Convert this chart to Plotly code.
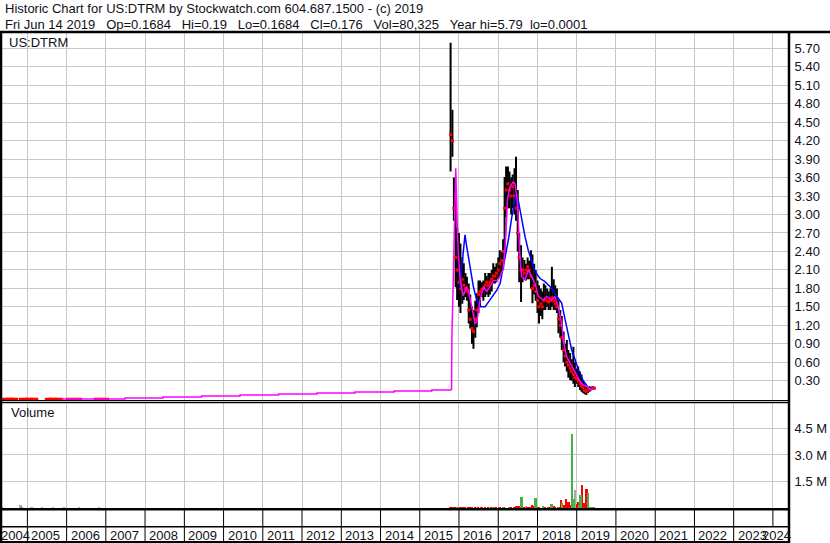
import plotly.graph_objects as go

W, H = 830, 543
FONT = "Arial, Liberation Sans, sans-serif"
TXT = "#101018"
GRID = "#c8c8c8"

# ---------------- data ----------------
grid_years = list(range(2005, 2025))
label_years = list(range(2004, 2025))

price_ticks = [0.30, 0.60, 0.90, 1.20, 1.50, 1.80, 2.10, 2.40, 2.70, 3.00,
               3.30, 3.60, 3.90, 4.20, 4.50, 4.80, 5.10, 5.40, 5.70]
vol_ticks = [1500000, 3000000, 4500000]
vol_tick_text = ["1.5 M", "3.0 M", "4.5 M"]

bar_dates = [
    "2015-10-15", "2015-11-01", "2015-11-15", "2015-12-01", "2015-12-15",
    "2016-01-01", "2016-01-15", "2016-02-01", "2016-02-15", "2016-03-01", "2016-03-15",
    "2016-04-01", "2016-04-15", "2016-05-01", "2016-05-15", "2016-06-01", "2016-06-15",
    "2016-07-01", "2016-07-15", "2016-08-01", "2016-08-15", "2016-09-01", "2016-09-15",
    "2016-10-01", "2016-10-15", "2016-11-01", "2016-11-15", "2016-12-01", "2016-12-15",
    "2017-01-01", "2017-01-15", "2017-02-01", "2017-02-15", "2017-03-01", "2017-03-15",
    "2017-04-01", "2017-04-15", "2017-05-01", "2017-05-15", "2017-06-01", "2017-06-15",
    "2017-07-01", "2017-07-15", "2017-08-01", "2017-08-15", "2017-09-01", "2017-09-15",
    "2017-10-01", "2017-10-15", "2017-11-01", "2017-11-15", "2017-12-01", "2017-12-15",
    "2018-01-01", "2018-01-15", "2018-02-01", "2018-02-15", "2018-03-01", "2018-03-15",
    "2018-04-01", "2018-04-15", "2018-05-01", "2018-05-15", "2018-06-01", "2018-06-15",
    "2018-07-01", "2018-07-15", "2018-08-01", "2018-08-15", "2018-09-01", "2018-09-15",
    "2018-10-01", "2018-10-15", "2018-11-01", "2018-11-15", "2018-12-01", "2018-12-15",
    "2019-01-01", "2019-01-15", "2019-02-01", "2019-02-15", "2019-03-01", "2019-03-15",
    "2019-04-01", "2019-04-15", "2019-05-01", "2019-05-15", "2019-06-01", "2019-06-14",
]
bar_high = [
    5.79, 4.70, 3.60, 3.23, 2.79,
    2.70, 2.53, 2.30, 2.21, 2.05, 1.99, 1.88, 1.70, 1.50, 1.45, 1.60, 1.72,
    1.93, 1.93, 1.90, 1.93, 2.05, 2.00, 2.05, 2.05, 2.10, 2.21, 2.15, 2.21,
    2.30, 2.42, 2.40, 2.60, 3.61, 3.78, 3.78, 3.70, 3.60, 3.65, 3.75, 3.94,
    3.40, 2.70, 2.50, 2.30, 2.26, 2.20, 2.30, 2.25, 2.42, 2.35, 2.20, 2.10,
    1.93, 1.85, 1.80, 1.75, 1.88, 1.85, 1.80, 1.75, 1.80, 2.15, 1.95, 1.85,
    1.80, 1.61, 1.45, 1.35, 1.10, 0.90, 0.96, 0.80, 0.75, 0.65, 0.85, 0.60,
    0.50, 0.53, 0.45, 0.40, 0.30, 0.26, 0.22, 0.20, 0.21, 0.20, 0.21, 0.19,
]
bar_low = [
    3.70, 3.94, 2.90, 1.82, 1.61,
    1.50, 1.40, 1.55, 1.61, 1.66, 1.60, 1.23, 1.15, 0.90, 0.82, 1.00, 1.17,
    1.40, 1.50, 1.66, 1.60, 1.66, 1.70, 1.66, 1.70, 1.75, 1.88, 1.88, 1.90,
    1.95, 2.00, 2.05, 2.10, 2.30, 2.96, 3.10, 3.10, 3.00, 3.10, 3.00, 2.90,
    2.40, 1.90, 1.58, 1.90, 1.95, 1.93, 1.95, 1.95, 1.80, 1.56, 1.70, 1.60,
    1.40, 1.23, 1.35, 1.30, 1.45, 1.45, 1.50, 1.45, 1.45, 1.50, 1.45, 1.45,
    1.40, 1.07, 1.00, 0.80, 0.60, 0.53, 0.45, 0.35, 0.31, 0.30, 0.25, 0.20,
    0.25, 0.20, 0.15, 0.12, 0.10, 0.08, 0.07, 0.10, 0.12, 0.14, 0.15, 0.1684,
]
bar_close = [
    4.30, 4.20, 3.10, 2.30, 2.10,
    1.90, 1.80, 1.95, 1.85, 1.80, 1.75, 1.45, 1.30, 1.15, 1.10, 1.30, 1.45,
    1.70, 1.75, 1.78, 1.80, 1.85, 1.90, 1.85, 1.90, 1.95, 2.00, 2.00, 2.05,
    2.10, 2.20, 2.25, 2.40, 3.10, 3.40, 3.50, 3.40, 3.30, 3.45, 3.30, 3.10,
    2.70, 2.30, 2.10, 2.10, 2.05, 2.10, 2.15, 2.10, 2.00, 1.80, 1.85, 1.75,
    1.60, 1.50, 1.55, 1.50, 1.60, 1.62, 1.60, 1.58, 1.60, 1.65, 1.60, 1.55,
    1.50, 1.30, 1.20, 1.00, 0.80, 0.70, 0.60, 0.55, 0.50, 0.45, 0.40, 0.35,
    0.33, 0.30, 0.25, 0.22, 0.18, 0.14, 0.13, 0.15, 0.17, 0.18, 0.18, 0.176,
]

early_dates = ["2004-06-08", "2004-07-24", "2004-08-30", "2004-11-22", "2005-01-16",
               "2005-03-04", "2005-07-21", "2005-08-27", "2005-10-22", "2006-02-01",
               "2006-04-16", "2006-10-20", "2006-12-24"]
early_close = [0.002, 0.002, 0.002, 0.002, 0.002, 0.002, 0.002,
               0.002, 0.002, 0.002, 0.002, 0.002, 0.002]

ma_short_pre_dates = ["2005-11-16", "2007-06-28", "2008-06-17", "2009-06-10", "2010-06-03",
                      "2011-05-29", "2012-05-19", "2013-05-08", "2014-05-08", "2015-04-23",
                      "2015-10-24"]
ma_short_pre = [0.003, 0.018, 0.034, 0.052, 0.068, 0.084, 0.100, 0.117, 0.133, 0.150, 0.150]

ma_short_dates = [
    "2015-10-24", "2015-10-27", "2015-11-06", "2015-11-25", "2015-12-02", "2015-12-15",
    "2015-12-25", "2016-01-11", "2016-02-10", "2016-03-13", "2016-03-28", "2016-04-29",
    "2016-05-30", "2016-06-14", "2016-07-15", "2016-08-15", "2016-09-15", "2016-10-16",
    "2016-11-16", "2016-12-18", "2017-01-18", "2017-02-17", "2017-03-14", "2017-03-26",
    "2017-04-20", "2017-05-21", "2017-06-06", "2017-06-27", "2017-07-22", "2017-08-07",
    "2017-09-07", "2017-10-07", "2017-11-08", "2017-12-09", "2018-01-09", "2018-02-24",
    "2018-03-27", "2018-05-12", "2018-06-12", "2018-07-13", "2018-08-14", "2018-08-29",
    "2018-09-29", "2018-11-15", "2019-01-01", "2019-02-01", "2019-03-03", "2019-04-03",
    "2019-05-04", "2019-06-14",
]
ma_short = [
    0.15, 1.00, 1.70, 3.00, 3.75, 2.90,
    2.40, 1.95, 1.68, 1.83, 1.77, 1.50,
    1.23, 1.25, 1.61, 1.83, 1.75, 1.83,
    1.93, 1.93, 1.99, 2.12, 2.70, 3.23,
    3.45, 3.53, 3.50, 3.23, 2.30, 1.99,
    1.94, 2.10, 1.99, 1.88, 1.67, 1.61,
    1.67, 1.61, 1.67, 1.50, 1.23, 0.96,
    0.69, 0.53, 0.37, 0.29, 0.23, 0.21,
    0.16, 0.17,
]

ma_long_dates = [
    "2016-01-08", "2016-02-26", "2016-03-13", "2016-04-13", "2016-05-14", "2016-06-14",
    "2016-07-15", "2016-08-31", "2016-10-16", "2016-12-18", "2017-01-18", "2017-02-17",
    "2017-04-05", "2017-05-07", "2017-06-06", "2017-06-17", "2017-07-06", "2017-08-07",
    "2017-09-07", "2017-10-07", "2017-11-08", "2017-12-09", "2018-01-25", "2018-03-12",
    "2018-04-27", "2018-06-12", "2018-08-14", "2018-09-14", "2018-10-15", "2018-11-15",
    "2018-12-16", "2019-01-16", "2019-03-03", "2019-04-18", "2019-05-20", "2019-06-14",
]
ma_long = [
    1.80, 2.67, 2.48, 2.15, 1.83, 1.61,
    1.50, 1.50, 1.61, 1.77, 1.88, 2.15,
    2.59, 2.96, 3.28, 3.35, 3.23, 2.91,
    2.64, 2.42, 2.26, 2.07, 1.96, 1.91,
    1.83, 1.72, 1.56, 1.30, 1.07, 0.80,
    0.65, 0.48, 0.30, 0.19, 0.18, 0.17,
]

vol_green_dates = ["2004-11-15", "2015-12-20", "2016-11-20", "2017-02-15", "2017-04-10",
                   "2017-08-08", "2017-12-16", "2018-02-20", "2018-05-14", "2018-07-15",
                   "2018-08-21", "2018-11-24", "2018-12-07", "2019-01-28", "2019-02-08",
                   "2019-04-17", "2019-04-28", "2019-05-12", "2019-05-26", "2019-06-10"]
vol_green = [60000, 70000, 60000, 70000, 60000,
             630000, 590000, 140000, 250000, 60000,
             300000, 4190000, 550000, 200000, 760000,
             850000, 100000, 100000, 80000, 90000]

vol_gray_dates = ["2004-05-10", "2004-10-31", "2005-02-10", "2005-05-20", "2005-09-01",
                  "2005-12-10", "2006-05-01", "2006-11-01", "2016-06-10", "2017-09-18",
                  "2018-12-19"]
vol_gray = [80000, 230000, 50000, 60000, 50000,
            60000, 50000, 70000, 60000, 140000,
            1040000]

vol_red_dates = [
    "2015-10-15", "2015-11-01", "2015-11-15", "2015-12-01", "2016-01-01", "2016-01-15",
    "2016-02-01", "2016-02-15", "2016-03-01", "2016-04-01", "2016-04-15", "2016-05-01",
    "2016-06-01", "2016-07-01", "2016-08-01", "2016-09-01", "2016-10-01", "2016-11-01",
    "2016-12-01", "2016-12-15", "2017-01-15", "2017-03-01", "2017-05-01", "2017-06-01",
    "2017-06-15", "2017-07-01", "2017-07-15", "2017-09-01", "2017-10-01", "2017-10-15",
    "2017-11-01", "2017-11-15", "2017-12-01", "2018-01-01", "2018-01-15", "2018-03-15",
    "2018-04-15", "2018-05-01", "2018-06-01", "2018-06-15", "2018-07-25", "2018-08-08",
    "2018-09-05", "2018-09-22", "2018-10-18", "2018-11-06", "2018-11-18", "2019-01-07",
    "2019-01-20", "2019-02-25", "2019-03-10", "2019-04-04",
]
vol_red = [
    60000, 80000, 50000, 60000, 40000, 50000,
    60000, 40000, 50000, 50000, 60000, 40000,
    50000, 50000, 40000, 50000, 40000, 50000,
    60000, 40000, 50000, 60000, 40000, 60000,
    140000, 130000, 120000, 50000, 70000, 100000,
    90000, 210000, 120000, 60000, 80000, 60000,
    50000, 60000, 120000, 80000, 90000, 480000,
    200000, 530000, 380000, 200000, 430000, 250000,
    370000, 1320000, 300000, 1100000,
]

x_range = ["2004-04-21", "2024-05-30"]

# ---------------- helpers (pixel frame -> paper) ----------------
def xp(px):
    return px / W


def yp(py):
    return 1 - py / H


PLOT_R = 789.0
PRICE_TOP, PRICE_BOT = 33.0, 400.7
VOL_TOP, VOL_BOT = 402.7, 509.3
ROW_MID = 526.7

fig = go.Figure()

# price bars (high-low segments)
seg_x, seg_y = [], []
for d, h, l in zip(bar_dates, bar_high, bar_low):
    seg_x += [d, d, None]
    seg_y += [l, h, None]
fig.add_trace(go.Scatter(x=seg_x, y=seg_y, mode="lines", line=dict(color="black", width=2),
                         xaxis="x", yaxis="y", hoverinfo="skip"))

# close ticks
fig.add_trace(go.Scatter(x=bar_dates, y=bar_close, mode="markers",
                         marker=dict(symbol="square", size=3, color="#ff0000", line=dict(width=0)),
                         xaxis="x", yaxis="y"))
fig.add_trace(go.Scatter(x=early_dates, y=early_close, mode="markers",
                         marker=dict(symbol="line-ew-open", size=6, color="#ff0000",
                                     line=dict(color="#ff0000", width=2.5)),
                         xaxis="x", yaxis="y"))

# moving averages
fig.add_trace(go.Scatter(x=ma_long_dates, y=ma_long, mode="lines",
                         line=dict(color="#0000ff", width=1.5), xaxis="x", yaxis="y"))
fig.add_trace(go.Scatter(x=ma_short_pre_dates, y=ma_short_pre, mode="lines",
                         line=dict(color="#ff00ff", width=1.5, shape="hv"), xaxis="x", yaxis="y"))
fig.add_trace(go.Scatter(x=ma_short_dates, y=ma_short, mode="lines",
                         line=dict(color="#ff00ff", width=1.5), xaxis="x", yaxis="y"))

# volume
BAR_W = 16 * 86400000
fig.add_trace(go.Bar(x=vol_gray_dates, y=vol_gray, marker=dict(color="#a8a8a8", line=dict(width=0)),
                     width=BAR_W, xaxis="x2", yaxis="y2"))
fig.add_trace(go.Bar(x=vol_red_dates, y=vol_red, marker=dict(color="#ff0000", line=dict(width=0)),
                     width=BAR_W, xaxis="x2", yaxis="y2"))
fig.add_trace(go.Bar(x=vol_green_dates, y=vol_green, marker=dict(color="#44b244", line=dict(width=0)),
                     width=BAR_W, xaxis="x2", yaxis="y2"))

year_ticks = [f"{y}-01-01" for y in grid_years]

xaxis_common = dict(domain=[0, xp(PLOT_R)], range=x_range, type="date", tickvals=year_ticks,
                    showticklabels=False, showgrid=True, gridcolor=GRID, gridwidth=1,
                    zeroline=False, showline=False, ticks="", fixedrange=True)

# price axis: 61.56 px per unit, zero at y=399.2
p_per = 61.56
price_range = [(399.2 - PRICE_BOT) / p_per, (399.2 - PRICE_TOP) / p_per]
# volume axis: 17.78 px per million, zero at y=508.3
v_per = 17.78 / 1e6
vol_range = [(508.3 - VOL_BOT) / v_per, (508.3 - VOL_TOP) / v_per]

fig.update_layout(
    width=W, height=H, autosize=False,
    margin=dict(l=0, r=0, t=0, b=0, pad=0),
    paper_bgcolor="white", plot_bgcolor="white",
    showlegend=False, bargap=0, barmode="overlay",
    font=dict(family=FONT, size=13, color=TXT),
    xaxis=dict(anchor="y", **xaxis_common),
    xaxis2=dict(anchor="y2", matches="x", **xaxis_common),
    yaxis=dict(domain=[yp(PRICE_BOT), yp(PRICE_TOP)], range=price_range, side="right",
               tickvals=price_ticks, ticktext=[f"{v:.2f}" for v in price_ticks],
               showgrid=True, gridcolor=GRID, gridwidth=1, zeroline=False, showline=False,
               ticks="outside", ticklen=2, tickcolor="rgba(0,0,0,0)",
               tickfont=dict(family=FONT, size=13, color=TXT), automargin=False,
               anchor="x", fixedrange=True),
    yaxis2=dict(domain=[yp(VOL_BOT), yp(VOL_TOP)], range=vol_range, side="right",
                tickvals=vol_ticks, ticktext=vol_tick_text,
                showgrid=True, gridcolor=GRID, gridwidth=1, zeroline=False, showline=False,
                ticks="outside", ticklen=2, tickcolor="rgba(0,0,0,0)",
                tickfont=dict(family=FONT, size=13, color=TXT), automargin=False,
                anchor="x2", fixedrange=True),
)

# ---------------- frame lines ----------------
shapes = []


def hline(py, w=1.0, x0=0.0, x1=PLOT_R):
    return dict(type="line", xref="paper", yref="paper", x0=xp(x0), x1=xp(x1),
                y0=yp(py), y1=yp(py), line=dict(color="black", width=w), layer="above")


def vline(px, y0, y1, w=1.0):
    return dict(type="line", xref="paper", yref="paper", x0=xp(px), x1=xp(px),
                y0=yp(y0), y1=yp(y1), line=dict(color="black", width=w), layer="above")


shapes.append(hline(32.0, 2.5, 0, W))
shapes.append(hline(PRICE_BOT, 1.2))
shapes.append(hline(VOL_TOP, 1.2))
shapes.append(hline(VOL_BOT, 2.5))
shapes.append(hline(ROW_MID, 1.5))
shapes.append(hline(542.0, 2.0))
shapes.append(vline(1.0, 31, 543, 2.5))
shapes.append(vline(PLOT_R, 31, 543, 2.5))

for y in grid_years:
    shapes.append(dict(type="line", xref="x", yref="paper", x0=f"{y}-01-01", x1=f"{y}-01-01",
                       y0=yp(VOL_BOT), y1=yp(ROW_MID), line=dict(color="black", width=1),
                       layer="above"))
    if y < 2024:
        shapes.append(dict(type="line", xref="x", yref="paper", x0=f"{y}-01-01", x1=f"{y}-01-01",
                           y0=yp(ROW_MID), y1=yp(543), line=dict(color="black", width=1),
                           layer="above"))

fig.update_layout(shapes=shapes)

# ---------------- texts ----------------
NB = "\u00a0"
ann = []
ann.append(dict(text="Historic Chart for US:DTRM by Stockwatch.com 604.687.1500 - (c) 2019",
                xref="paper", yref="paper", x=xp(3), y=yp(9), xanchor="left", yanchor="middle",
                showarrow=False, font=dict(family=FONT, size=13, color=TXT)))
line2 = ("Fri Jun 14 2019" + NB * 3 + "Op=0.1684" + NB * 3 + "Hi=0.19" + NB * 3 + "Lo=0.1684"
         + NB * 3 + "Cl=0.176" + NB * 3 + "Vol=80,325" + NB * 3 + "Year hi=5.79" + NB * 2
         + "lo=0.0001")
ann.append(dict(text=line2, xref="paper", yref="paper", x=xp(3), y=yp(24), xanchor="left",
                yanchor="middle", showarrow=False, font=dict(family=FONT, size=13, color=TXT)))
ann.append(dict(text="US:DTRM", xref="paper", yref="paper", x=xp(7), y=yp(42), xanchor="left",
                yanchor="middle", showarrow=False, font=dict(family=FONT, size=13, color=TXT)))
ann.append(dict(text="Volume", xref="paper", yref="paper", x=xp(9), y=yp(413), xanchor="left",
                yanchor="middle", showarrow=False, font=dict(family=FONT, size=13, color=TXT)))

for y in label_years:
    if y == 2004:
        ann.append(dict(text=str(y), xref="paper", yref="paper", x=xp(-1), y=yp(535),
                        xanchor="left", yanchor="middle", showarrow=False,
                        font=dict(family=FONT, size=13, color=TXT)))
    elif y == 2024:
        ann.append(dict(text=str(y), xref="paper", yref="paper", x=xp(793), y=yp(535),
                        xanchor="right", yanchor="middle", showarrow=False,
                        font=dict(family=FONT, size=13, color=TXT)))
    else:
        ann.append(dict(text=str(y), xref="x", yref="paper", x=f"{y}-01-01", xshift=2,
                        y=yp(535), xanchor="left", yanchor="middle", showarrow=False,
                        font=dict(family=FONT, size=13, color=TXT)))

fig.update_layout(annotations=ann)

fig.write_html("out.html", config={"displayModeBar": False},
               post_script="document.body.style.margin='0px';")
